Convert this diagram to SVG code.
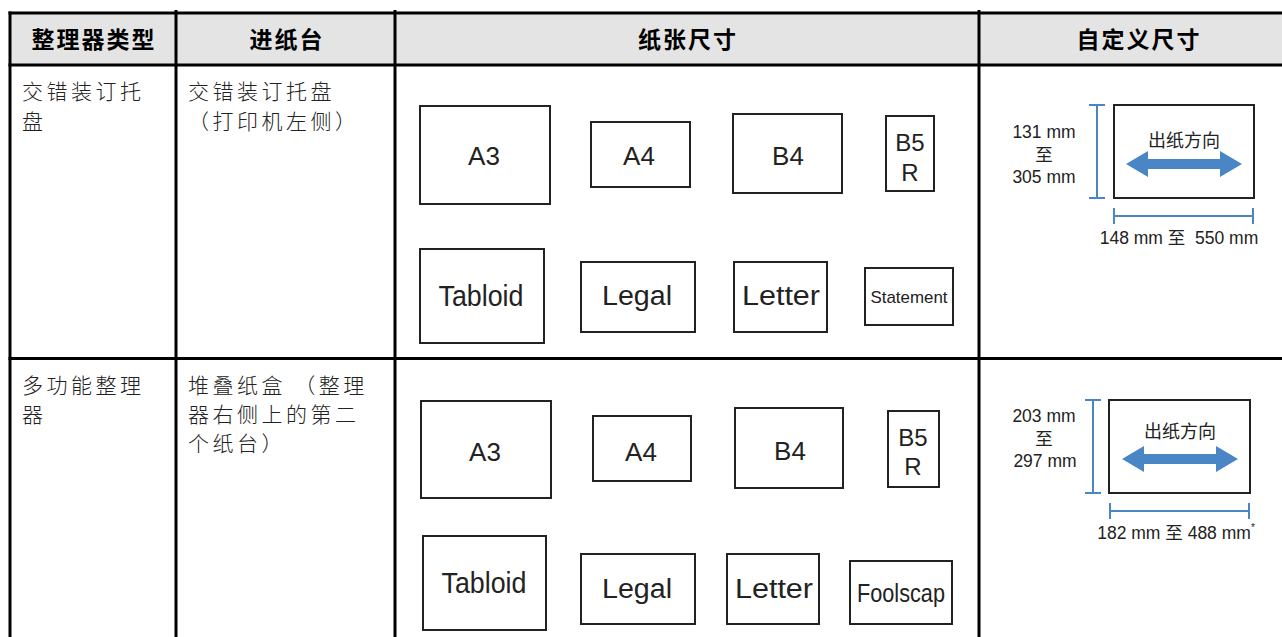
<svg xmlns="http://www.w3.org/2000/svg" width="1282" height="637" viewBox="0 0 1282 637">
<style>
.grid{stroke:#000;stroke-width:3;fill:none}
.hdr{font-family:"Liberation Sans","Noto Sans CJK SC",sans-serif;font-size:23px;font-weight:bold;fill:#000;text-anchor:middle;letter-spacing:2px}
.cell{font-family:"Noto Sans CJK SC","Noto Sans CJK JP",sans-serif;font-size:21px;font-weight:300;fill:#222;letter-spacing:3.5px}
.paper{fill:#fff;stroke:#222;stroke-width:2}
.pl{font-family:"Liberation Sans","Noto Sans",sans-serif;fill:#222;text-anchor:middle}
.dim{stroke:#4a86c5;stroke-width:2;fill:none}
.arr{fill:#4a86c5}
.dt{font-family:"Liberation Sans","Noto Sans CJK SC",sans-serif;font-size:17.5px;fill:#222;text-anchor:middle}
.dh{font-family:"Liberation Sans","Noto Sans CJK SC",sans-serif;font-size:18px;fill:#222;text-anchor:middle}
</style>
<rect width="1282" height="637" fill="#fff"/>
<g id="header">
<rect x="10" y="13" width="1272" height="52" fill="#e4e4e4"/>
<text class="hdr" x="94" y="48">整理器类型</text>
<text class="hdr" x="287" y="48">进纸台</text>
<text class="hdr" x="688" y="48">纸张尺寸</text>
<text class="hdr" x="1139" y="48">自定义尺寸</text>
</g>
<g id="grid">
<line class="grid" x1="8.5" y1="13" x2="1282" y2="13"/>
<line class="grid" x1="8.5" y1="65" x2="1282" y2="65"/>
<line class="grid" x1="8.5" y1="358.5" x2="1282" y2="358.5"/>
<line class="grid" x1="10" y1="11.5" x2="10" y2="637"/>
<line class="grid" x1="176" y1="10" x2="176" y2="637"/>
<line class="grid" x1="395" y1="10" x2="395" y2="637"/>
<line class="grid" x1="979" y1="10" x2="979" y2="637"/>
</g>
<g id="row1-text">
<text class="cell" x="22" y="99">交错装订托</text>
<text class="cell" x="22" y="129">盘</text>
<text class="cell" x="188" y="99">交错装订托盘</text>
<text class="cell" x="188" y="129">（打印机左侧）</text>
</g>
<g id="row2-text">
<text class="cell" x="22" y="393">多功能整理</text>
<text class="cell" x="22" y="422">器</text>
<text class="cell" x="188" y="393" xml:space="preserve">堆叠纸盒 （整理</text>
<text class="cell" x="188" y="422">器右侧上的第二</text>
<text class="cell" x="188" y="451">个纸台）</text>
</g>
<g id="row1-papers">
<g id="r1-a3"><rect class="paper" x="420" y="106" width="130" height="98"/><text class="pl" x="484" y="165" font-size="26">A3</text></g>
<g id="r1-a4"><rect class="paper" x="591" y="122" width="99" height="65"/><text class="pl" x="639" y="165" font-size="26">A4</text></g>
<g id="r1-b4"><rect class="paper" x="733" y="114" width="109" height="79"/><text class="pl" x="788" y="165" font-size="26">B4</text></g>
<g id="r1-b5r"><rect class="paper" x="886" y="116" width="48" height="75"/><text class="pl" x="910" y="151" font-size="24">B5</text><text class="pl" x="910" y="181" font-size="24">R</text></g>
<g id="r1-tabloid"><rect class="paper" x="420" y="249" width="124" height="94"/><text class="pl" x="481" y="306" font-size="29" textLength="85" lengthAdjust="spacingAndGlyphs">Tabloid</text></g>
<g id="r1-legal"><rect class="paper" x="581" y="262" width="114" height="70"/><text class="pl" x="637" y="305" font-size="27" textLength="70" lengthAdjust="spacingAndGlyphs">Legal</text></g>
<g id="r1-letter"><rect class="paper" x="734" y="262" width="93" height="70"/><text class="pl" x="781" y="305" font-size="27" textLength="78" lengthAdjust="spacingAndGlyphs">Letter</text></g>
<g id="r1-statement"><rect class="paper" x="865" y="268" width="88" height="57"/><text class="pl" x="909" y="303" font-size="17" textLength="77" lengthAdjust="spacingAndGlyphs">Statement</text></g>
</g>
<g id="row2-papers">
<g id="r2-a3"><rect class="paper" x="421" y="401" width="130" height="97"/><text class="pl" x="485" y="461" font-size="26">A3</text></g>
<g id="r2-a4"><rect class="paper" x="593" y="416" width="98" height="65"/><text class="pl" x="641" y="461" font-size="26">A4</text></g>
<g id="r2-b4"><rect class="paper" x="735" y="408" width="108" height="80"/><text class="pl" x="790" y="460" font-size="26">B4</text></g>
<g id="r2-b5r"><rect class="paper" x="888" y="411" width="51" height="76"/><text class="pl" x="913" y="446" font-size="24">B5</text><text class="pl" x="913" y="475" font-size="24">R</text></g>
<g id="r2-tabloid"><rect class="paper" x="423" y="536" width="123" height="94"/><text class="pl" x="484" y="593" font-size="29" textLength="85" lengthAdjust="spacingAndGlyphs">Tabloid</text></g>
<g id="r2-legal"><rect class="paper" x="581" y="554" width="114" height="70"/><text class="pl" x="637" y="598" font-size="27" textLength="70" lengthAdjust="spacingAndGlyphs">Legal</text></g>
<g id="r2-letter"><rect class="paper" x="727" y="554" width="92" height="70"/><text class="pl" x="774" y="598" font-size="27" textLength="78" lengthAdjust="spacingAndGlyphs">Letter</text></g>
<g id="r2-foolscap"><rect class="paper" x="850" y="561" width="102" height="63"/><text class="pl" x="901" y="602" font-size="25" textLength="88" lengthAdjust="spacingAndGlyphs">Foolscap</text></g>
</g>
<g id="custom1">
<rect x="1114" y="105" width="140" height="93" fill="#fff" stroke="#222" stroke-width="2"/>
<text class="dh" x="1184" y="147">出纸方向</text>
<polygon class="arr" points="1126,164 1148,151 1148,159 1220,159 1220,151 1242,164 1220,177 1220,169 1148,169 1148,177"/>
<path class="dim" d="M1097,105V198M1089,105H1105M1089,198H1105"/>
<path class="dim" d="M1114,216H1253M1114,208V224M1253,208V224"/>
<text class="dt" x="1044" y="138">131 mm</text>
<text class="dt" x="1044" y="161">至</text>
<text class="dt" x="1044" y="183">305 mm</text>
<text class="dt" x="1179" y="244" xml:space="preserve">148 mm 至  550 mm</text>
</g>
<g id="custom2">
<rect x="1109" y="400" width="141" height="93" fill="#fff" stroke="#222" stroke-width="2"/>
<text class="dh" x="1180" y="438">出纸方向</text>
<polygon class="arr" points="1122,459 1144,446 1144,454 1216,454 1216,446 1238,459 1216,472 1216,464 1144,464 1144,472"/>
<path class="dim" d="M1093,400V493M1085,400H1101M1085,493H1101"/>
<path class="dim" d="M1110,511H1249M1110,503V519M1249,503V519"/>
<text class="dt" x="1044" y="422">203 mm</text>
<text class="dt" x="1044" y="445">至</text>
<text class="dt" x="1045" y="467">297 mm</text>
<text class="dt" x="1176" y="539">182 mm 至 488 mm<tspan font-size="10" dy="-8">*</tspan></text>
</g>
</svg>
